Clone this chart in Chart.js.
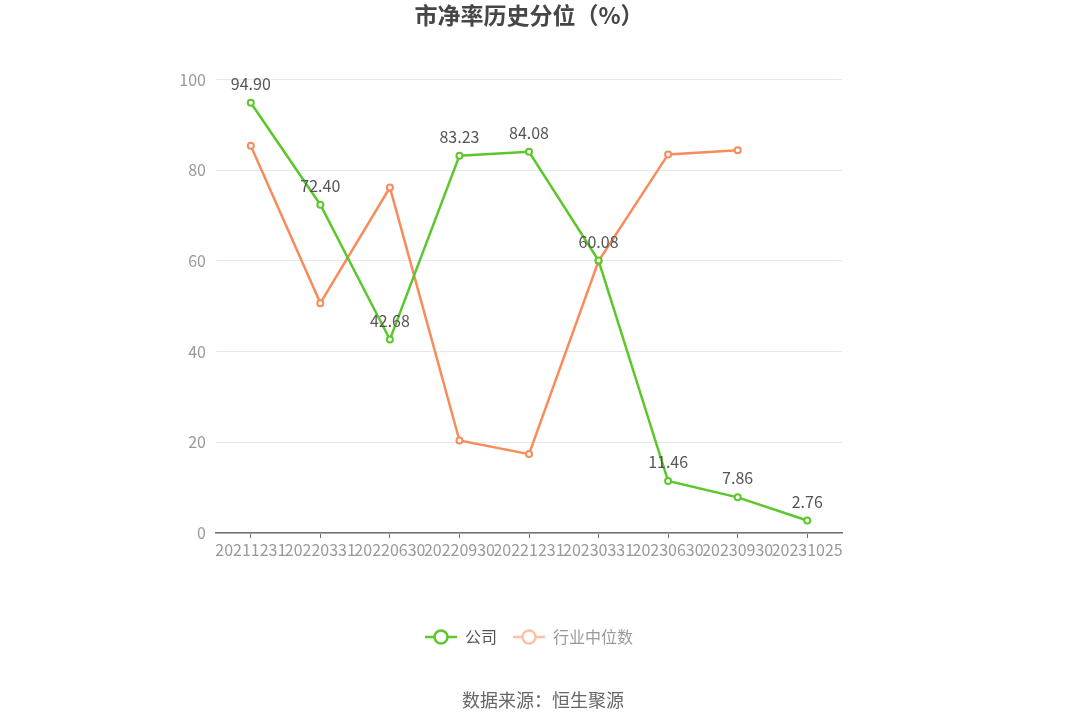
<!DOCTYPE html>
<html>
<head>
<meta charset="utf-8">
<script src="https://cdn.jsdelivr.net/npm/chart.js@4/dist/chart.umd.min.js"></script>
<style>
  html, body { margin: 0; padding: 0; background: #fff; }
  #wrap { position: relative; width: 1086px; height: 728px; }
  #footer { position: absolute; left: 0; width: 1086px; top: 686px; text-align: center;
            font-family: "Noto Sans CJK SC", "Noto Sans", sans-serif; font-size: 18px; color: #666; }
</style>
</head>
<body>
<div id="wrap">
  <canvas id="c" width="1086" height="728"></canvas>
  <div id="footer">数据来源：恒生聚源</div>
</div>
<script>
const categories = ["20211231","20220331","20220630","20220930","20221231","20230331","20230630","20230930","20231025"];
const companyValues = [94.90, 72.40, 42.68, 83.23, 84.08, 60.08, 11.46, 7.86, 2.76];
const industryValues = [85.4, 50.7, 76.2, 20.4, 17.4, 60.0, 83.5, 84.4, null];
const yTicks = [0, 20, 40, 60, 80, 100];
const seriesNames = ["公司", "行业中位数"];

const GREEN = "#5BC72A";
const ORANGE = "#F98B5A";
const FONT = "'Noto Sans CJK SC', 'Noto Sans', sans-serif";

function legendIcon(color) {
  const c = document.createElement("canvas");
  c.width = 32; c.height = 18;
  const g = c.getContext("2d");
  g.strokeStyle = color; g.lineWidth = 2.5;
  g.beginPath(); g.moveTo(0, 9); g.lineTo(32, 9); g.stroke();
  g.fillStyle = "#fff"; g.lineWidth = 2.5;
  g.beginPath(); g.arc(16, 9, 6.5, 0, Math.PI * 2); g.fill(); g.stroke();
  return c;
}

const valueLabels = {
  id: "valueLabels",
  afterDatasetsDraw(chart) {
    const ctx = chart.ctx;
    const meta = chart.getDatasetMeta(0);
    ctx.save();
    ctx.font = "16px " + FONT;
    ctx.fillStyle = "#555";
    ctx.textAlign = "center";
    ctx.textBaseline = "bottom";
    meta.data.forEach((pt, i) => {
      const v = companyValues[i];
      if (v == null) return;
      ctx.fillText(v.toFixed(2), pt.x, pt.y - 11);
    });
    ctx.restore();
  }
};

const legendSpacer = {
  id: "legendSpacer",
  beforeInit(chart) {
    const origFit = chart.legend.fit;
    chart.legend.fit = function () {
      origFit.bind(chart.legend)();
      this.height = 115;
    };
  }
};

new Chart(document.getElementById("c"), {
  type: "line",
  data: {
    labels: categories,
    datasets: [
      {
        label: seriesNames[0],
        data: companyValues,
        borderColor: GREEN,
        backgroundColor: "#fff",
        borderWidth: 2.5,
        pointRadius: 3,
        pointBorderWidth: 2,
        pointBackgroundColor: "#fff",
        pointBorderColor: GREEN,
        tension: 0
      },
      {
        label: seriesNames[1],
        data: industryValues,
        borderColor: ORANGE,
        backgroundColor: "#fff",
        borderWidth: 2.5,
        pointRadius: 3,
        pointBorderWidth: 2,
        pointBackgroundColor: "#fff",
        pointBorderColor: ORANGE,
        tension: 0,
        spanGaps: false
      }
    ]
  },
  options: {
    responsive: false,
    animation: false,
    layout: { padding: { left: 0, right: 244, top: 0, bottom: 0 } },
    scales: {
      x: {
        offset: true,
        grid: { display: true, drawOnChartArea: false, drawTicks: true, tickLength: 5, color: "#6E7079", offset: false, lineWidth: 1 },
        border: { display: true, color: "#6E7079", width: 1.5 },
        ticks: { autoSkip: false, maxRotation: 0, minRotation: 0, color: "#999", font: { size: 16, family: FONT }, padding: 2 },
        afterFit(scale) { scale.height = 80; }
      },
      y: {
        min: 0, max: 100,
        afterBuildTicks(scale) { scale.ticks = yTicks.map(v => ({ value: v })); },
        grid: { color: "#E3E8F2", drawTicks: false, lineWidth: 1 },
        border: { display: false },
        ticks: { color: "#999", font: { size: 16, family: FONT }, padding: 10 },
        afterFit(scale) { scale.width = 216; }
      }
    },
    plugins: {
      title: {
        display: true,
        fullSize: false,
        text: "市净率历史分位（%）",
        color: "#464646",
        font: { size: 23, weight: "bold", family: FONT },
        padding: { top: 1, bottom: 51 }
      },
      legend: {
        display: true,
        position: "bottom",
        fullSize: false,
        labels: {
          padding: 16,
          boxWidth: 32,
          boxHeight: 18,
          pointStyleWidth: 32,
          usePointStyle: true,
          font: { size: 16, family: FONT },
          generateLabels(chart) {
            return [
              { text: seriesNames[0], pointStyle: legendIcon(GREEN), fontColor: "#555", datasetIndex: 0, hidden: false, lineWidth: 0, strokeStyle: GREEN, fillStyle: GREEN },
              { text: seriesNames[1], pointStyle: legendIcon("#FDC2A6"), fontColor: "#999", datasetIndex: 1, hidden: false, lineWidth: 0, strokeStyle: ORANGE, fillStyle: ORANGE }
            ];
          }
        },
        onClick() {}
      },
      tooltip: { enabled: false }
    }
  },
  plugins: [valueLabels, legendSpacer]
});
</script>
</body>
</html>
